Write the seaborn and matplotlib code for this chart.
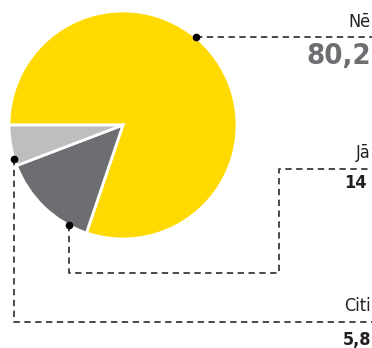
import matplotlib
matplotlib.use("Agg")
import matplotlib.pyplot as plt
import numpy as np
import seaborn as sns

# ================= DATA =================
labels = ["Nē", "Jā", "Citi"]
values = [80.2, 14.0, 5.8]
value_text = ["80,2", "14", "5,8"]
colors = ["#FFDA00", "#6D6E71", "#BCBEC0"]

# ================= STYLE =================
sns.set_theme(style="white")
plt.rcParams["font.family"] = ["DejaVu Sans"]
plt.rcParams["font.stretch"] = "condensed"

W, H = 372, 348
fig = plt.figure(figsize=(W / 100, H / 100), dpi=100)
ax = fig.add_axes([0, 0, 1, 1])

cx, cy, r = 123, H - 125, 114
ax.pie(values, colors=colors, startangle=180, counterclock=False,
       center=(cx, cy), radius=r,
       wedgeprops=dict(edgecolor="white", linewidth=2))
ax.set_xlim(0, W)
ax.set_ylim(0, H)
ax.set_aspect("equal")
ax.axis("off")

line_kw = dict(color="#3a3a3a", lw=1.3, ls=(0, (3.5, 2.5)), solid_capstyle="butt")
dot_kw = dict(color="black", marker="o", ms=4.5, ls="none", zorder=5)

# leader lines (pixel layout, y measured from top)
def Y(y):
    return H - y

dot_angles = [50.3, 241.7, 197.5]
dots = [(cx + r * np.cos(np.radians(a)), cy + r * np.sin(np.radians(a))) for a in dot_angles]

paths = [
    [dots[0], (W + 5, dots[0][1])],
    [dots[1], (dots[1][0], Y(273)), (279, Y(273)), (279, Y(169)), (W + 5, Y(169))],
    [dots[2], (dots[2][0], Y(322)), (W + 5, Y(322))],
]
for pts, d in zip(paths, dots):
    xs, ys = zip(*pts)
    ax.plot(xs, ys, **line_kw)
    ax.plot([d[0]], [d[1]], **dot_kw)

# labels, right aligned at the right edge
xr = W - 1
ax.text(xr, Y(27), labels[0], fontsize=13, color="#231F20", va="baseline", ha="right")
ax.text(xr, Y(64), value_text[0], fontsize=21, fontweight="bold", color="#6D6E71", va="baseline", ha="right")
ax.text(xr, Y(158), labels[1], fontsize=13, color="#231F20", va="baseline", ha="right")
ax.text(xr - 4, Y(188), value_text[1], fontsize=13, fontweight="bold", color="#231F20", va="baseline", ha="right")
ax.text(xr, Y(311), labels[2], fontsize=13, color="#231F20", va="baseline", ha="right")
ax.text(xr, Y(345), value_text[2], fontsize=13, fontweight="bold", color="#231F20", va="baseline", ha="right")

plt.savefig("out.png", dpi=100)
